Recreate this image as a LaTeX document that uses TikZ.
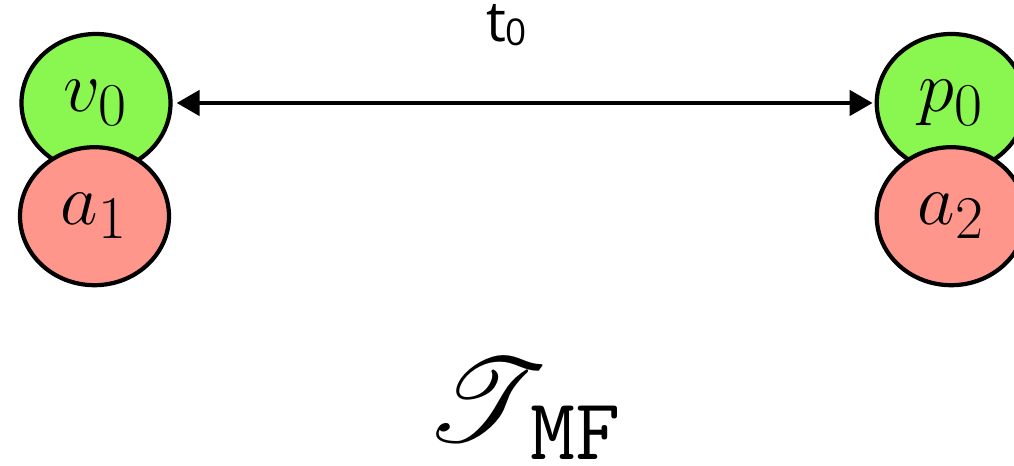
\documentclass[tikz,border=0pt]{standalone}
\usepackage{fontspec}
\newfontfamily\labelfont{Open Sans}
\usepackage{mathrsfs}
\usepackage{graphicx}
\usepackage{tikz}
\usetikzlibrary{arrows.meta, positioning, shapes.geometric}
\definecolor{varGreen}{RGB}{137,247,80}
\definecolor{argRed}{RGB}{255,150,140}
\DeclareMathSizes{20}{20}{16}{12}
\newcommand{\subtt}{\fontencoding{OT1}\fontfamily{cmtt}\fontsize{24}{28}\selectfont}

\begin{document}
\begin{tikzpicture}[
  term/.style={ellipse, draw, line width=1.2pt, minimum width=1.49cm,
               minimum height=1.38cm, inner sep=0pt, font=\fontsize{20}{24}\selectfont},
  arr/.style={{Triangle[length=0.23cm,width=0.25cm]}-{Triangle[length=0.23cm,width=0.25cm]},
              line width=1.3pt}
]
\useasboundingbox (0,0) rectangle (10.14,4.66);
\node[term, fill=varGreen] (v0) at (0.96,3.63) {$v_0$};
\node[term, fill=argRed, below=-0.29cm of v0, xshift=-0.015cm] (a1) {$a_1$};
\node[term, fill=varGreen, right=7.02cm of v0] (p0) {$p_0$};
\node[term, fill=argRed, below=-0.29cm of p0] (a2) {$a_2$};
\draw[arr, shorten <=0.04cm, shorten >=0.02cm] (v0) --
  node[above=0.43cm, xshift=-0.17cm, font=\labelfont\fontsize{16}{18}\selectfont] (t0)
  {t\raisebox{-1.3pt}{\fontsize{10.5}{12}\selectfont 0}} (p0);
% family name with its subscript
\node[anchor=base, inner sep=0pt, font=\fontsize{24.88}{30}\selectfont] (tmf) at (5.23,0.24)
  {\scalebox{1.35}{$\mathscr{T}$}\hspace{-5pt}%
   \raisebox{-5pt}{\subtt MF}};
\end{tikzpicture}
\end{document}
